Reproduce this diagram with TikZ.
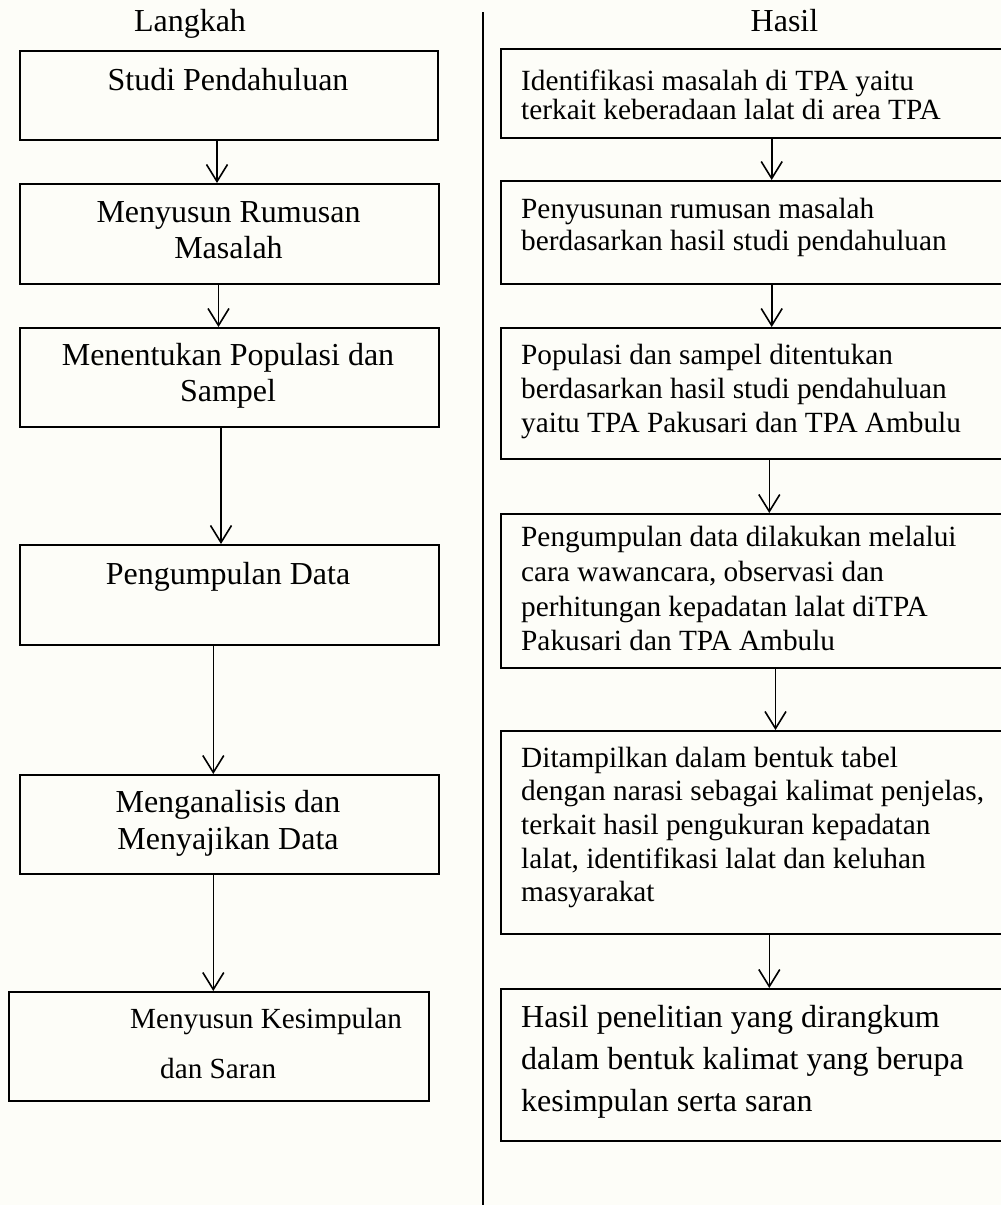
\documentclass[tikz,border=0pt]{standalone}
\usepackage{fontspec}
\setmainfont{Liberation Serif}
\usetikzlibrary{arrows.meta}
\definecolor{bgc}{RGB}{253,253,248}
\newcommand\mlines[2]{\begin{tabular}[t]{@{}#1@{}}#2\end{tabular}}
\begin{document}
\begin{tikzpicture}[x=1pt,y=-1pt,
  box/.style={draw, line width=1.8pt, inner sep=0pt, anchor=north west},
  arr/.style={line width=1.6pt, -{Straight Barb[length=17pt,width=21pt,line width=1.6pt]}},
  txt/.style={inner sep=0pt, anchor=base},
  lfont/.style={font=\fontsize{32}{36.6}\selectfont},
  rfont/.style={font=\fontsize{29.3}{#1}\selectfont},
]
\fill[bgc] (0,0) rectangle (1001,1205);
\useasboundingbox (0,0) rectangle (1001,1205);

% headers
\node[txt, lfont] (hl) at (190,31) {Langkah};
\node[txt, lfont] (hr) at (784.5,31) {Hasil};

% divider
\coordinate (dtop) at (483,12);
\coordinate (dbot) at (483,1205);
\draw[line width=1.5pt] (dtop) -- (dbot);

% left boxes
\node[box, minimum width=418pt, minimum height=89pt]  (l1) at (19,50) {};
\node[box, minimum width=419pt, minimum height=100pt] (l2) at (19,183) {};
\node[box, minimum width=419pt, minimum height=99pt]  (l3) at (19,327) {};
\node[box, minimum width=419pt, minimum height=100pt] (l4) at (19,544) {};
\node[box, minimum width=419pt, minimum height=99pt]  (l5) at (19,774) {};
\node[box, minimum width=420pt, minimum height=109pt] (l6) at (8,991) {};

% left texts
\node[txt, lfont] (tl1) at (228,90) {Studi Pendahuluan};
\node[txt, lfont] (tl2) at (228.5,222) {\mlines{c}{Menyusun Rumusan\\Masalah}};
\node[txt, lfont] (tl3) at (228,365) {\mlines{c}{Menentukan Populasi dan\\Sampel}};
\node[txt, lfont] (tl4) at (228,584) {Pengumpulan Data};
\node[txt, lfont] (tl5) at (228,812.7) {\mlines{c}{Menganalisis dan\\Menyajikan Data}};
\node[txt, anchor=base west, font=\fontsize{29.2}{49.7}\selectfont] (tl6) at (130,1028.3) {\mlines{l}{Menyusun Kesimpulan\\\hspace*{30pt}dan Saran}};

% right boxes
\node[box, minimum width=515pt, minimum height=89pt]  (r1) at (500,48) {};
\node[box, minimum width=515pt, minimum height=103pt] (r2) at (500,180) {};
\node[box, minimum width=515pt, minimum height=131pt] (r3) at (500,327) {};
\node[box, minimum width=515pt, minimum height=154pt] (r4) at (500,513) {};
\node[box, minimum width=515pt, minimum height=203pt] (r5) at (500,730) {};
\node[box, minimum width=515pt, minimum height=152pt] (r6) at (500,988) {};

% right texts
\node[txt, anchor=base west, rfont=27.7] (tr1) at (521,90.7) {\mlines{l}{Identifikasi masalah di TPA yaitu\\terkait keberadaan lalat di area TPA}};
\node[txt, anchor=base west, rfont=32.4] (tr2) at (521,218.3) {\mlines{l}{Penyusunan rumusan masalah\\berdasarkan hasil studi pendahuluan}};
\node[txt, anchor=base west, rfont=34] (tr3) at (521,364) {\mlines{l}{Populasi dan sampel ditentukan\\berdasarkan hasil studi pendahuluan\\yaitu TPA Pakusari dan TPA Ambulu}};
\node[txt, anchor=base west, rfont=34.7] (tr4) at (521,546.7) {\mlines{l}{Pengumpulan data dilakukan melalui\\cara wawancara, observasi dan\\perhitungan kepadatan lalat diTPA\\Pakusari dan TPA Ambulu}};
\node[txt, anchor=base west, rfont=33.6] (tr5) at (521,767.3) {\mlines{l}{Ditampilkan dalam bentuk tabel\\dengan narasi sebagai kalimat penjelas,\\terkait hasil pengukuran kepadatan\\lalat, identifikasi lalat dan keluhan\\masyarakat}};
\node[txt, anchor=base west, font=\fontsize{32}{42}\selectfont] (tr6) at (521,1027.7) {\mlines{l}{Hasil penelitian yang dirangkum\\dalam bentuk kalimat yang berupa\\kesimpulan serta saran}};

% arrow x positions
\coordinate (xa1) at (217,0);
\coordinate (xa2) at (218.5,0);
\coordinate (xa3) at (221,0);
\coordinate (xa4) at (213.3,0);
\coordinate (xa5) at (213.3,0);
\coordinate (xb1) at (771.7,0);
\coordinate (xb2) at (771.7,0);
\coordinate (xb3) at (769.3,0);
\coordinate (xb4) at (775.5,0);
\coordinate (xb5) at (769.3,0);

% left arrows
\draw[arr] (l1.south -| xa1) -- (l2.north -| xa1);
\draw[arr] (l2.south -| xa2) -- (l3.north -| xa2);
\draw[arr] (l3.south -| xa3) -- (l4.north -| xa3);
\draw[arr] (l4.south -| xa4) -- (l5.north -| xa4);
\draw[arr] (l5.south -| xa5) -- (l6.north -| xa5);

% right arrows
\draw[arr] (r1.south -| xb1) -- (r2.north -| xb1);
\draw[arr] (r2.south -| xb2) -- (r3.north -| xb2);
\draw[arr] (r3.south -| xb3) -- (r4.north -| xb3);
\draw[arr] (r4.south -| xb4) -- (r5.north -| xb4);
\draw[arr] (r5.south -| xb5) -- (r6.north -| xb5);
\end{tikzpicture}
\end{document}
